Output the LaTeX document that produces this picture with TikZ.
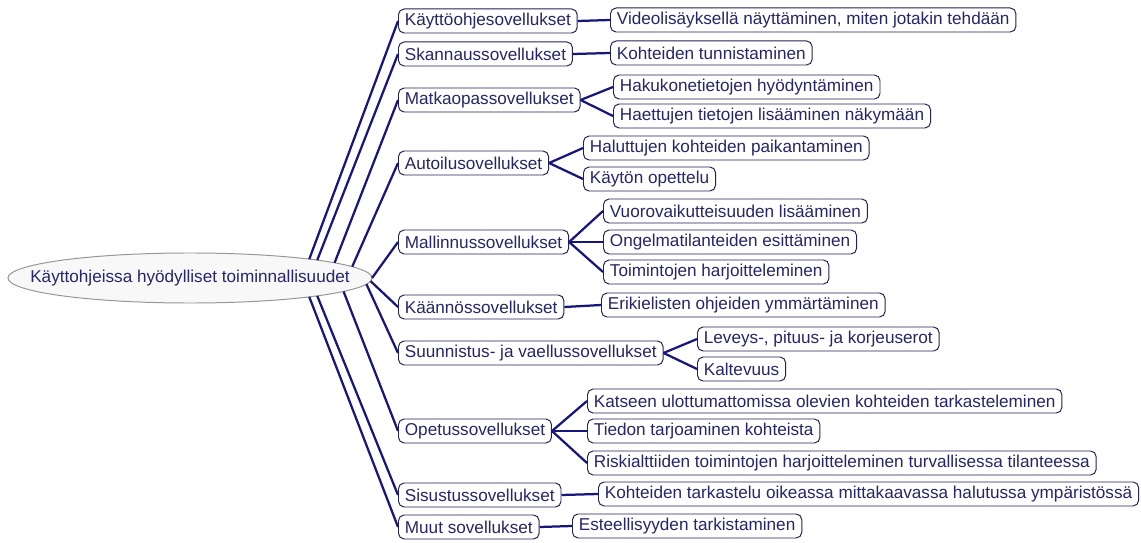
\documentclass[tikz,border=0pt]{standalone}
\usepackage{fontspec}
\setmainfont{Liberation Sans}
\usetikzlibrary{shapes.geometric}
\definecolor{linkblue}{RGB}{22,22,125}
\definecolor{boxline}{RGB}{35,35,85}
\definecolor{inkblue}{RGB}{38,38,105}
\definecolor{rootfill}{RGB}{248,248,248}
\definecolor{rootline}{RGB}{150,150,150}
\begin{document}
\begin{tikzpicture}[x=0.025cm, y=-0.025cm,
    every node/.style={font=\fontsize{12.2}{14}\selectfont, text=inkblue},
    topic/.style={draw=boxline, line width=0.7pt, fill=white, rounded corners=4pt,
      anchor=west, minimum height=0.6cm, inner xsep=0.16cm, inner ysep=0pt},
    hub/.style={ellipse, draw=rootline, line width=0.7pt, fill=rootfill,
      minimum width=9.1cm, minimum height=1.25cm, inner xsep=-1cm, inner ysep=0pt,
      outer sep=0pt},
    link/.style={draw=linkblue, line width=1.6pt}]
    \useasboundingbox (0,0) rectangle (1141,543);
    % root
    \node (root) [hub] at (190,278) {Käyttohjeissa hyödylliset toiminnallisuudet};
    % branches
    \node (kay) [topic] at (398,21) {Käyttöohjesovellukset};
    \node (ska) [topic] at (398,54) {Skannaussovellukset};
    \node (mat) [topic] at (398,100) {Matkaopassovellukset};
    \node (aut) [topic] at (398,163) {Autoilusovellukset};
    \node (mal) [topic] at (398,242) {Mallinnussovellukset};
    \node (kaa) [topic] at (398,307) {Käännössovellukset};
    \node (suu) [topic] at (398,353) {Suunnistus- ja vaellussovellukset};
    \node (ope) [topic] at (398,431) {Opetussovellukset};
    \node (sis) [topic] at (398,495) {Sisustussovellukset};
    \node (muu) [topic] at (398,527) {Muut sovellukset};
    % leaves
    \node (kay1) [topic] at (610,20) {Videolisäyksellä näyttäminen, miten jotakin tehdään};
    \node (ska1) [topic] at (610,53) {Kohteiden tunnistaminen};
    \node (mat1) [topic] at (613,87) {Hakukonetietojen hyödyntäminen};
    \node (mat2) [topic] at (613,116) {Haettujen tietojen lisääminen näkymään};
    \node (aut1) [topic] at (583,148) {Haluttujen kohteiden paikantaminen};
    \node (aut2) [topic] at (583,179) {Käytön opettelu};
    \node (mal1) [topic] at (603,211) {Vuorovaikutteisuuden lisääminen};
    \node (mal2) [topic] at (603,242) {Ongelmatilanteiden esittäminen};
    \node (mal3) [topic] at (603,272) {Toimintojen harjoitteleminen};
    \node (kaa1) [topic] at (601,305) {Erikielisten ohjeiden ymmärtäminen};
    \node (suu1) [topic] at (697,339) {Leveys-, pituus- ja korjeuserot};
    \node (suu2) [topic] at (697,369) {Kaltevuus};
    \node (ope1) [topic] at (587,401) {Katseen ulottumattomissa olevien kohteiden tarkasteleminen};
    \node (ope2) [topic] at (587,431) {Tiedon tarjoaminen kohteista};
    \node (ope3) [topic] at (587,463) {Riskialttiiden toimintojen harjoitteleminen turvallisessa tilanteessa};
    \node (sis1) [topic] at (598,494) {Kohteiden tarkastelu oikeassa mittakaavassa halutussa ympäristössä};
    \node (muu1) [topic] at (572,526) {Esteellisyyden tarkistaminen};
    % root to branches
    \draw[link] (root.9.4) -- (kay.west);
    \draw[link] (root.8.3) -- (ska.west);
    \draw[link] (root.6.5) -- (mat.west);
    \draw[link] (root.4) -- (aut.west);
    \draw[link] (root.0.5) -- (mal.west);
    \draw[link] (root.-1.2) -- (kaa.west);
    \draw[link] (root.-2.7) -- (suu.west);
    \draw[link] (root.-5.6) -- (ope.west);
    \draw[link] (root.-8.3) -- (sis.west);
    \draw[link] (root.-9.4) -- (muu.west);
    % branches to leaves
    \draw[link] (kay.east) -- (kay1.west);
    \draw[link] (ska.east) -- (ska1.west);
    \draw[link] (mat.east) -- (mat1.west);
    \draw[link] (mat.east) -- (mat2.west);
    \draw[link] (aut.east) -- (aut1.west);
    \draw[link] (aut.east) -- (aut2.west);
    \draw[link] (mal.east) -- (mal1.west);
    \draw[link] (mal.east) -- (mal2.west);
    \draw[link] (mal.east) -- (mal3.west);
    \draw[link] (kaa.east) -- (kaa1.west);
    \draw[link] (suu.east) -- (suu1.west);
    \draw[link] (suu.east) -- (suu2.west);
    \draw[link] (ope.east) -- (ope1.west);
    \draw[link] (ope.east) -- (ope2.west);
    \draw[link] (ope.east) -- (ope3.west);
    \draw[link] (sis.east) -- (sis1.west);
    \draw[link] (muu.east) -- (muu1.west);
\end{tikzpicture}
\end{document}
